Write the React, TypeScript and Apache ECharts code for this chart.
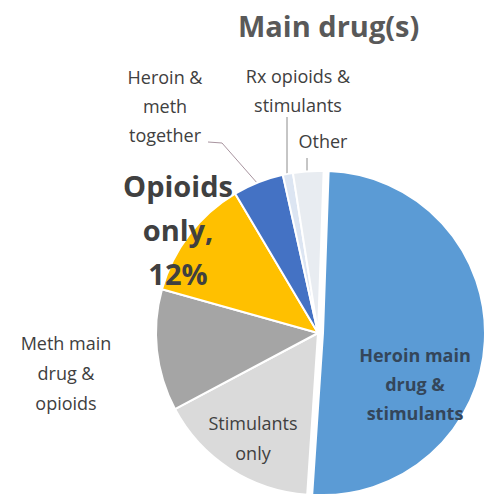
import React, { useEffect, useRef } from "react";
import * as echarts from "echarts";

const categories = [
  "Heroin main drug & stimulants",
  "Stimulants only",
  "Meth main drug & opioids",
  "Opioids only",
  "Heroin & meth together",
  "Rx opioids & stimulants",
  "Other",
];
const values = [50, 16, 12, 12, 5, 1, 3];
const labelTexts = [
  "Heroin main\ndrug &\nstimulants",
  "Stimulants\nonly",
  "Meth main\ndrug &\nopioids",
  "Opioids\nonly,\n12%",
  "Heroin &\nmeth\ntogether",
  "Rx opioids &\nstimulants",
  "Other",
];
const titleText = "Main drug(s)";

const COLORS = ["#5B9BD5", "#DADADA", "#A5A5A5", "#FFC000", "#4472C4", "#DCE5F2", "#E8ECF1"];
const FONT = "'Open Sans', sans-serif";

const LABEL_POS: { x: number; y: number; line?: number[][] }[] = [
  { x: 415, y: 384 },
  { x: 253, y: 438 },
  { x: 66, y: 373 },
  { x: 178, y: 229 },
  { x: 165, y: 106, line: [[208, 142], [222, 143], [258, 184]] },
  { x: 298, y: 90, line: [[287, 117], [287, 150], [287, 178]] },
  { x: 323, y: 141, line: [[307, 158], [307, 165], [307, 172]] },
];

const LABEL_STYLE = [
  { fontSize: 18, fontWeight: 700, color: "#34465A", lineHeight: 29 },
  { fontSize: 18, fontWeight: 400, color: "#404040", lineHeight: 30 },
  { fontSize: 18, fontWeight: 400, color: "#404040", lineHeight: 30 },
  { fontSize: 29, fontWeight: 700, color: "#404040", lineHeight: 44 },
  { fontSize: 18, fontWeight: 400, color: "#404040", lineHeight: 29 },
  { fontSize: 18, fontWeight: 400, color: "#404040", lineHeight: 29 },
  { fontSize: 18, fontWeight: 400, color: "#404040", lineHeight: 29 },
];

const LINE_COLORS = ["#999", "#999", "#999", "#999", "#A8949F", "#8C8C8C", "#8C8C8C"];

const CENTER_X = 318;
const CENTER_Y = 333;
const RADIUS = 162;
const EXPLODE = 5;
const START = 88;

export default function App() {
  const ref = useRef<HTMLDivElement>(null);
  useEffect(() => {
    document.body.style.margin = "0";
    const chart = echarts.init(ref.current!, null, { renderer: "svg" });
    const total = values.reduce((a, b) => a + b, 0);
    const hidden = {
      color: "transparent",
      borderColor: "transparent",
      borderWidth: 0,
    };
    const makeItem = (i: number) => {
      const hasLine = !!LABEL_POS[i].line;
      return {
        name: categories[i],
        value: values[i],
        itemStyle: { color: COLORS[i] },
        label: {
          show: true,
          position: hasLine ? "outside" : "inside",
          formatter: () => labelTexts[i],
          fontFamily: FONT,
          align: "center",
          ...LABEL_STYLE[i],
        },
        labelLine: {
          show: hasLine,
          lineStyle: { color: LINE_COLORS[i], width: 1 },
        },
      };
    };
    // Exploded main slice (series A) and the remaining slices (series B)
    const dataA = [
      makeItem(0),
      { name: "rest", value: total - values[0], itemStyle: hidden, label: { show: false }, labelLine: { show: false } },
    ];
    const dataB = [
      { name: "placeholder", value: values[0], itemStyle: hidden, label: { show: false }, labelLine: { show: false } },
      ...categories.slice(1).map((_, k) => makeItem(k + 1)),
    ];
    const layoutFor = (offset: number) => (params: any) => {
      const idx = params.dataIndex + offset;
      const p = LABEL_POS[idx];
      if (!p) return {};
      const r: any = { x: p.x, y: p.y, align: "center", verticalAlign: "middle" };
      if (p.line) r.labelLinePoints = p.line;
      return r;
    };
    const common = {
      type: "pie",
      radius: RADIUS,
      startAngle: START,
      clockwise: true,
      avoidLabelOverlap: false,
      silent: true,
      itemStyle: { borderColor: "#ffffff", borderWidth: 2 },
      emphasis: { disabled: true },
    };
    chart.setOption({
      animation: false,
      title: {
        text: titleText,
        left: 233,
        top: 6,
        textStyle: { fontFamily: FONT, fontSize: 29, fontWeight: 700, color: "#595959" },
      },
      series: [
        {
          ...common,
          center: [CENTER_X, CENTER_Y],
          labelLayout: layoutFor(0),
          data: dataB,
        },
        {
          ...common,
          center: [CENTER_X + EXPLODE, CENTER_Y],
          labelLayout: (params: any) => (params.dataIndex === 0 ? layoutFor(0)(params) : {}),
          data: dataA,
        },
      ],
    });
    return () => chart.dispose();
  }, []);
  return <div ref={ref} style={{ position: "absolute", left: 0, top: 0, width: 485, height: 499 }} />;
}
